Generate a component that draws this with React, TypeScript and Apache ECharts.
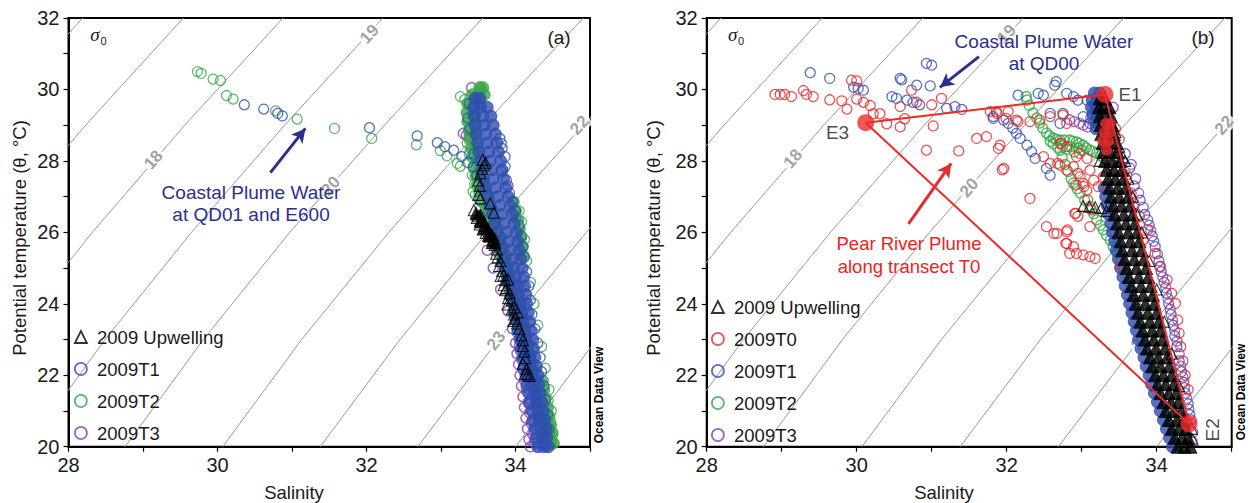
import { useEffect, useRef } from 'react';
import * as echarts from 'echarts';

const FONT = '"Liberation Sans", Arial, Helvetica, sans-serif';
const C_UPW = '#000000';
const C_T0 = '#e52b2b';
const C_T1 = '#2f4db0';
const C_T2 = '#36a847';
const C_T3 = '#8a3cb4';
const C_NAVY = '#2b2f8e';
const C_ISO = '#9a9a9a';
const C_TEXT = '#1a1a1a';

// axes
const salRange = [28, 35];
const tempRange = [20, 32];
const salTickLabels = [28, 30, 32, 34];
const tempTickLabels = [20, 22, 24, 26, 28, 30, 32];

// isopycnals (sigma-0): salinity read at the temperatures below
const isoLevels = [16, 17, 18, 19, 20, 21, 22, 23, 24];
const isoTemps = [20, 23, 26, 29, 32];
const isoSal = [
  [23.52, 24.52, 25.68, 26.89, 28.19],
  [24.83, 25.85, 27.0, 28.23, 29.54],
  [26.14, 27.17, 28.32, 29.56, 30.88],
  [27.45, 28.49, 29.65, 30.9, 32.22],
  [28.76, 29.81, 30.97, 32.24, 33.56],
  [30.07, 31.13, 32.3, 33.57, 34.91],
  [31.38, 32.45, 33.62, 34.91, 36.25],
  [32.69, 33.77, 34.95, 36.25, 37.6],
  [34.0, 35.09, 36.27, 37.6, 38.9],
];
const isoLabelText = ['18', '19', '20', '22', '23'];
const isoLabelRot = [49, 47, 49, 48, 52];
const isoLabelPosA = [[29.14, 28.03], [32.04, 31.55], [31.52, 27.3], [34.86, 29.0], [33.74, 22.97]];
const isoLabelPosB = [[29.15, 28.06], [32.0, 31.55], [31.5, 27.25], [34.9, 29.0], [33.78, 22.97]];

// ---------------- Panel (a) ----------------
const aUpwPoints = [
  [33.56, 28.03], [33.6, 27.95], [33.58, 27.88], [33.55, 27.78], [33.53, 27.65], [33.5, 27.45], [33.52, 27.3], [33.5, 27.05],
  [33.53, 26.95], [33.66, 26.81], [33.71, 26.55], [33.44, 26.62], [33.47, 26.55], [33.5, 26.45], [33.48, 26.4], [33.53, 26.35],
  [33.55, 26.28], [33.52, 26.22], [33.58, 26.18], [33.56, 26.08], [33.61, 26.1], [33.6, 25.98], [33.64, 26.02], [33.65, 25.88],
  [33.68, 25.93], [33.69, 25.78], [33.72, 25.82], [33.72, 25.65], [33.75, 25.52], [33.74, 25.4], [33.76, 25.3], [33.8, 25.2],
  [33.78, 25.06], [33.82, 24.92], [33.8, 24.78], [33.86, 24.66], [33.84, 24.52], [33.88, 24.44], [33.92, 24.3], [33.9, 24.16],
  [33.89, 23.98], [33.95, 23.85], [33.98, 23.7], [34.0, 23.58], [34.02, 23.45], [34.05, 23.3], [34.08, 23.12], [34.1, 22.98],
  [34.1, 22.82], [34.12, 22.66], [34.13, 22.48], [34.1, 22.32], [34.15, 22.18], [34.16, 22.02], [34.19, 21.98], [34.13, 22.04],
  [33.84, 24.8], [33.9, 24.68], [33.86, 24.38], [33.95, 24.1], [33.98, 23.9], [34.03, 23.76], [33.97, 23.52],
];
const aUpwCore: [number, number[]][] = [
  [26.5, [33.47, 33.53]], [26.3, [33.52, 33.58]], [26.1, [33.57, 33.63]], [25.9, [33.63, 33.69]], [25.7, [33.68, 33.73]],
];
const aT1Points = [
  [30.36, 29.57], [30.62, 29.45], [30.81, 29.33], [30.87, 29.26], [32.04, 28.93], [32.68, 28.7], [32.95, 28.51], [33.05, 28.4],
  [33.17, 28.3], [33.28, 28.12], [33.36, 27.95], [33.43, 27.82], [33.61, 27.04], [33.52, 26.9], [33.79, 28.63], [33.81, 28.49],
  [33.82, 28.35], [33.86, 28.12], [33.86, 27.84], [33.81, 27.7], [33.88, 27.46], [33.9, 27.3], [33.92, 27.1], [33.96, 26.85],
  [34.0, 26.6], [34.05, 26.2], [34.08, 25.9], [34.1, 25.6], [34.12, 25.3], [34.15, 24.9], [34.18, 24.5], [34.2, 24.1],
  [34.22, 23.7], [34.26, 23.3], [34.3, 22.9], [34.33, 22.5], [34.35, 22.1], [34.38, 21.7], [34.4, 21.3], [34.43, 20.9],
  [34.45, 20.5], [33.38, 29.6], [33.36, 29.2], [33.39, 28.9], [33.44, 28.2], [33.48, 27.6], [33.56, 27.2], [33.64, 26.6],
  [33.7, 26.2], [33.76, 25.7], [33.82, 25.2], [33.88, 24.7], [33.93, 24.2], [33.98, 23.7], [34.02, 23.2], [34.06, 22.7],
  [34.1, 22.2], [34.14, 21.7], [34.18, 21.2], [34.22, 20.7], [34.26, 20.2],
];
const aT1Core: [number, number[]][] = [
  [29.75, [33.46, 33.52]], [29.5, [33.44, 33.53, 33.62]], [29.25, [33.45, 33.56, 33.67]], [29.0, [33.46, 33.58, 33.7]],
  [28.75, [33.47, 33.6, 33.73]], [28.5, [33.49, 33.62, 33.75]], [28.25, [33.51, 33.64, 33.77]], [28.0, [33.53, 33.66, 33.8]],
  [27.75, [33.55, 33.68, 33.82]], [27.5, [33.57, 33.7, 33.84]], [27.25, [33.6, 33.73, 33.87]], [27.0, [33.63, 33.76, 33.9]],
  [26.75, [33.66, 33.79, 33.93]], [26.5, [33.69, 33.82, 33.96]], [26.25, [33.72, 33.85, 33.98]], [26.0, [33.75, 33.88, 34.01]],
  [25.75, [33.78, 33.91, 34.03]], [25.5, [33.81, 33.93, 34.05]], [25.25, [33.84, 33.96, 34.07]], [25.0, [33.87, 33.98, 34.09]],
  [24.75, [33.9, 34.0, 34.11]], [24.5, [33.93, 34.02, 34.12]], [24.25, [33.95, 34.04, 34.14]], [24.0, [33.97, 34.06, 34.15]],
  [23.75, [34.0, 34.08, 34.17]], [23.5, [34.02, 34.1, 34.19]], [23.25, [34.04, 34.12, 34.21]], [23.0, [34.06, 34.14, 34.23]],
  [22.75, [34.08, 34.16, 34.24]], [22.5, [34.1, 34.18, 34.26]], [22.25, [34.12, 34.2, 34.28]], [22.0, [34.14, 34.22, 34.3]],
  [21.75, [34.16, 34.24, 34.31]], [21.5, [34.18, 34.26, 34.33]], [21.25, [34.2, 34.28, 34.35]], [21.0, [34.22, 34.3, 34.37]],
  [20.75, [34.24, 34.32, 34.39]], [20.5, [34.26, 34.34, 34.41]], [20.25, [34.28, 34.36, 34.42]], [20.0, [34.3, 34.38, 34.44]],
];
const aT2Points = [
  [29.73, 30.5], [29.78, 30.45], [29.94, 30.29], [30.04, 30.25], [30.12, 29.83], [30.21, 29.73], [30.78, 29.4], [31.07, 29.17],
  [31.57, 28.91], [32.07, 28.63], [32.67, 28.45], [32.99, 28.29], [33.08, 28.14], [33.22, 27.93], [33.26, 27.85], [33.43, 27.14],
  [33.46, 27.05], [33.68, 26.67], [33.26, 29.8], [33.32, 29.72], [33.35, 28.5], [33.38, 28.2], [33.42, 27.6], [33.45, 27.35],
  [34.05, 26.6], [34.08, 26.3], [34.12, 25.8], [34.15, 25.2], [34.2, 24.6], [34.25, 24.0], [34.3, 23.4], [34.35, 22.8],
  [34.4, 22.2], [34.45, 21.6], [34.48, 21.0], [34.5, 20.4], [34.52, 20.1], [34.44, 21.3], [34.47, 20.7], [34.46, 20.2],
];
const aT2Core: [number, number[]][] = [
  [30.05, [33.52, 33.56]], [29.85, [33.42, 33.5, 33.58]], [29.6, [33.36, 33.44, 33.52]], [29.35, [33.35, 33.43]],
  [29.1, [33.36, 33.44]], [28.85, [33.38, 33.45]], [28.6, [33.39, 33.46]], [28.35, [33.41, 33.48]], [28.1, [33.43, 33.5]],
  [27.85, [33.45, 33.52]], [27.6, [33.47, 33.54]], [27.35, [33.49, 33.57]], [27.1, [33.52, 33.6]],
  [26.85, [33.56, 33.64, 33.97]], [26.6, [33.6, 33.68, 34.0]], [26.35, [33.64, 33.72, 34.03]], [26.1, [33.68, 33.76, 34.05]],
  [25.85, [33.72, 33.8, 34.07]], [25.6, [33.76, 33.83, 34.09]], [25.35, [33.8, 33.87, 34.1]], [25.1, [33.84, 33.9]],
  [24.85, [33.87, 33.93]], [24.6, [33.9, 33.96]], [24.35, [33.93, 33.99]], [24.1, [33.96, 34.02]], [23.85, [33.99, 34.05]],
  [23.6, [34.02, 34.08]], [23.35, [34.05, 34.1]], [23.1, [34.08, 34.13]], [22.85, [34.1, 34.16]], [22.6, [34.13, 34.19]],
  [22.35, [34.16, 34.22]], [22.1, [34.19, 34.25]], [21.85, [34.22, 34.28, 34.36]], [21.6, [34.25, 34.31, 34.38]],
  [21.35, [34.28, 34.34, 34.4]], [21.1, [34.31, 34.37, 34.43]], [20.85, [34.34, 34.4, 34.45]], [20.6, [34.37, 34.43, 34.47]],
  [20.35, [34.4, 34.45, 34.49]], [20.1, [34.42, 34.47, 34.5]],
];
const aT3Points = [
  [33.41, 30.05], [33.3, 28.77], [33.34, 28.72], [33.38, 28.68], [33.96, 26.85], [33.98, 26.6], [34.0, 26.4], [33.62, 25.5],
  [33.7, 25.0], [33.8, 24.4], [33.9, 23.8], [33.96, 23.3], [34.0, 22.9], [34.02, 22.6], [34.04, 22.3], [34.06, 22.0],
  [34.08, 21.7], [34.1, 21.4], [34.12, 21.1], [34.14, 20.8], [34.16, 20.5], [34.18, 20.2], [34.2, 20.0], [34.05, 22.8],
  [34.08, 22.45], [34.1, 22.15], [34.12, 21.85], [34.15, 21.55], [34.17, 21.25], [34.19, 20.95], [34.21, 20.65], [34.23, 20.35],
  [34.25, 20.1],
];

// ---------------- Panel (b) ----------------
const bT0Points = [
  [28.91, 29.86], [28.98, 29.86], [29.04, 29.86], [29.13, 29.8], [29.29, 29.97], [29.33, 29.86], [29.42, 29.8], [29.64, 29.71],
  [29.8, 29.68], [29.87, 29.45], [29.93, 30.26], [30.0, 30.24], [30.0, 29.73], [30.09, 29.64], [30.18, 29.55], [30.22, 29.32],
  [30.31, 29.32], [30.4, 29.04], [30.58, 28.95], [30.58, 29.52], [30.64, 29.18], [30.73, 29.98], [30.8, 29.64], [31.0, 29.57],
  [31.02, 28.98], [31.13, 29.75], [30.93, 28.3], [31.36, 28.28], [31.6, 28.63], [31.73, 28.68], [31.78, 29.38], [31.87, 29.33],
  [32.02, 29.38], [32.13, 29.14], [32.31, 29.1], [31.91, 28.44], [31.89, 28.35], [31.96, 27.79], [32.31, 26.95], [32.53, 26.16],
  [32.67, 25.97], [32.8, 25.69], [32.84, 25.41], [32.93, 25.41], [33.02, 25.37], [33.11, 25.32], [33.18, 25.27], [32.8, 26.02],
  [32.91, 26.53], [32.95, 26.45], [32.58, 27.93], [32.71, 27.88], [32.8, 27.74], [32.89, 27.84], [32.98, 27.56], [33.02, 27.37],
  [33.07, 27.18], [33.16, 27.46], [33.22, 27.28], [33.29, 27.56], [33.11, 27.74], [32.93, 28.12], [33.07, 28.07], [32.71, 28.49],
  [32.8, 28.4], [32.44, 29.14], [32.58, 29.24], [32.8, 29.05], [32.75, 29.28], [32.63, 25.97], [32.81, 26.07], [32.79, 25.69],
  [32.89, 25.6], [33.11, 26.16], [33.13, 26.63], [33.08, 26.91], [33.51, 25.04], [32.49, 28.12], [32.68, 27.93], [32.73, 28.49],
  [32.97, 28.21], [32.95, 27.65], [32.92, 27.33], [33.03, 27.28], [32.92, 26.53], [31.99, 29.19], [31.86, 29.38], [32.15, 29.1],
  [31.94, 27.75], [33.6, 27.6], [33.66, 27.1], [33.7, 26.8], [33.77, 26.44], [33.88, 26.07], [33.82, 25.79], [33.98, 25.41],
  [34.04, 25.04], [34.14, 24.67], [34.2, 24.29], [34.25, 24.01], [34.28, 23.55], [34.3, 23.18], [34.32, 22.8], [34.35, 22.4],
  [34.38, 22.0], [34.42, 21.6], [33.45, 28.9], [33.5, 28.6], [33.42, 28.3], [33.38, 27.9], [33.46, 27.7],
];
const bT0Core: [number, number[]][] = [
  [29.05, [33.32, 33.38]], [28.8, [33.3, 33.37]], [28.55, [33.28, 33.36]], [28.3, [33.33]],
];
const bT1Points = [
  [29.38, 30.47], [29.64, 30.31], [29.96, 30.06], [30.02, 30.03], [30.09, 29.98], [30.58, 30.31], [30.6, 30.27], [30.47, 29.8],
  [30.53, 29.75], [30.67, 29.7], [30.75, 29.64], [30.84, 29.57], [30.8, 30.12], [30.98, 30.1], [30.93, 30.73], [31.0, 30.68],
  [31.2, 29.47], [31.4, 29.44], [31.82, 29.19], [31.31, 29.52], [32.15, 29.84], [32.42, 29.89], [32.49, 29.84], [32.64, 30.12],
  [32.66, 30.22], [32.8, 29.89], [32.89, 29.8], [32.95, 29.7], [32.58, 29.33], [32.71, 29.05], [31.96, 29.14], [32.02, 29.05],
  [32.08, 28.92], [32.13, 28.77], [32.18, 28.63], [32.27, 28.44], [32.33, 28.26], [32.38, 28.07], [32.53, 27.79], [32.58, 27.6],
  [31.82, 29.24], [32.75, 29.33], [33.07, 29.7], [33.02, 29.24], [33.11, 29.05], [33.58, 28.2], [33.64, 27.8], [33.7, 27.3],
  [33.78, 26.9], [33.84, 26.5], [33.9, 26.2], [33.94, 25.9], [33.98, 25.6], [34.03, 25.2], [34.06, 24.9], [34.1, 24.6],
  [34.13, 24.3], [34.16, 24.0], [34.19, 23.7], [34.22, 23.4], [34.24, 23.1], [34.27, 22.8], [34.3, 22.4], [34.33, 22.1],
  [34.36, 21.8], [34.38, 21.5], [34.42, 21.2], [34.44, 20.9],
];
const bT1Core: [number, number[]][] = [
  [29.9, [33.17, 33.24]], [29.7, [33.14, 33.21]], [29.5, [33.13, 33.19]], [29.3, [33.15, 33.2]], [29.1, [33.17]], [28.9, [33.19]],
  [27.25, [33.3]], [27.0, [33.32]], [26.75, [33.34]], [26.5, [33.36]], [26.25, [33.39]], [26.0, [33.41]], [25.75, [33.44]],
  [25.5, [33.46]], [25.25, [33.49]], [25.0, [33.52]], [24.75, [33.55]], [24.5, [33.58]], [24.25, [33.61]], [24.0, [33.64]],
  [23.75, [33.67]], [23.5, [33.7]], [23.25, [33.73]], [23.0, [33.76]], [22.75, [33.79]], [22.5, [33.83]], [22.25, [33.86]],
  [22.0, [33.9]], [21.75, [33.93]], [21.5, [33.97]], [21.25, [34.01]], [21.0, [34.05]], [20.75, [34.09]], [20.5, [34.13]],
  [20.25, [34.17]], [20.0, [34.21]],
];
const bT2Points = [
  [32.26, 29.8], [32.27, 29.7], [32.3, 29.55], [32.35, 29.34], [32.4, 29.2], [32.44, 29.06], [32.48, 28.92], [32.53, 28.78],
  [32.57, 28.7], [32.62, 28.64], [32.66, 28.6], [32.71, 28.58], [32.77, 28.58], [32.84, 28.58], [32.88, 28.55], [32.93, 28.53],
  [32.97, 28.49], [33.02, 28.44], [33.06, 28.37], [33.11, 28.3], [33.15, 28.26], [33.2, 28.22], [33.25, 28.15], [33.3, 28.05],
  [32.62, 28.48], [32.75, 28.42], [32.85, 28.4], [32.95, 28.36], [33.0, 28.3], [32.9, 28.25], [32.8, 28.33], [32.68, 28.38],
  [32.58, 28.55], [32.71, 28.3], [32.74, 28.1], [32.78, 27.9], [32.82, 27.7], [32.86, 27.5], [32.89, 27.38], [32.94, 27.22],
  [32.98, 27.1], [33.04, 26.9], [33.11, 26.72], [33.16, 26.52], [33.2, 26.35], [33.25, 26.2], [33.29, 26.07], [33.33, 25.92],
  [33.38, 25.78], [33.42, 25.6], [33.47, 25.42], [33.52, 25.22], [33.56, 25.04], [33.6, 24.85], [33.64, 24.6], [33.67, 24.35],
  [33.72, 24.1], [33.76, 23.85], [33.8, 23.55], [33.84, 23.3], [33.88, 23.0], [33.92, 22.7], [33.96, 22.4], [34.0, 22.1],
  [34.04, 21.8], [34.08, 21.5], [34.12, 21.2], [34.16, 20.9], [34.2, 20.6], [34.24, 20.3], [34.27, 20.05],
];
const bT3Points = [
  [32.84, 29.15], [32.9, 29.1], [32.97, 29.05], [33.02, 29.0], [33.08, 28.95], [33.12, 29.2], [33.3, 29.6], [33.42, 29.5],
  [33.66, 27.9], [33.72, 27.5], [33.76, 27.1], [33.82, 26.7], [33.88, 26.35], [33.92, 26.05], [33.96, 25.75], [34.01, 25.4],
  [34.05, 25.05], [34.08, 24.75], [34.12, 24.45], [34.15, 24.15], [34.18, 23.85], [34.21, 23.55], [34.24, 23.25], [34.27, 22.95],
  [34.3, 22.6], [34.32, 22.25], [34.35, 21.95], [34.37, 21.65], [34.4, 21.35], [34.43, 21.05], [34.46, 20.75], [34.48, 20.4],
  [34.47, 20.15],
];
const bUpwPoints = [
  [33.02, 26.74], [33.1, 26.72], [33.18, 26.7], [33.26, 26.68], [33.33, 26.6], [33.24, 28.0], [33.38, 29.1], [33.45, 28.8],
  [33.5, 28.4], [33.55, 28.1], [33.58, 28.0], [33.62, 27.5], [33.68, 27.0], [33.74, 26.5], [33.8, 26.0], [33.9, 25.2],
  [34.0, 24.4], [34.1, 23.5], [34.2, 22.6], [34.3, 21.7], [34.4, 20.8], [34.48, 20.2], [34.47, 20.5],
];
const bUpwCore: [number, number[]][] = [
  [29.75, [33.24, 33.31]], [29.5, [33.23, 33.3, 33.37]], [29.25, [33.24, 33.31, 33.39]], [29.0, [33.25, 33.33, 33.41]],
  [28.75, [33.26, 33.34, 33.43]], [28.5, [33.28, 33.36, 33.46]], [28.25, [33.29, 33.38, 33.48]], [28.0, [33.31, 33.41, 33.51]],
  [27.75, [33.33, 33.43, 33.54]], [27.5, [33.35, 33.45, 33.56]], [27.25, [33.37, 33.48, 33.59]], [27.0, [33.39, 33.5, 33.62]],
  [26.75, [33.42, 33.53, 33.65]], [26.5, [33.44, 33.56, 33.68]], [26.25, [33.47, 33.59, 33.71]], [26.0, [33.49, 33.62, 33.74]],
  [25.75, [33.52, 33.65, 33.77]], [25.5, [33.54, 33.67, 33.8]], [25.25, [33.57, 33.7, 33.83]], [25.0, [33.6, 33.73, 33.86]],
  [24.75, [33.63, 33.76, 33.89]], [24.5, [33.66, 33.79, 33.92]], [24.25, [33.69, 33.82, 33.95]], [24.0, [33.72, 33.85, 33.97]],
  [23.75, [33.75, 33.88, 34.0]], [23.5, [33.78, 33.91, 34.03]], [23.25, [33.81, 33.94, 34.05]], [23.0, [33.84, 33.96, 34.08]],
  [22.75, [33.87, 33.99, 34.11]], [22.5, [33.91, 34.02, 34.14]], [22.25, [33.94, 34.05, 34.17]], [22.0, [33.98, 34.09, 34.2]],
  [21.75, [34.01, 34.12, 34.23]], [21.5, [34.05, 34.16, 34.26]], [21.25, [34.09, 34.19, 34.29]], [21.0, [34.12, 34.23, 34.32]],
  [20.75, [34.16, 34.27, 34.36]], [20.5, [34.2, 34.3, 34.39]], [20.25, [34.24, 34.34, 34.42]], [20.0, [34.28, 34.37, 34.45]],
];
const endMemberNames = ['E1', 'E2', 'E3'];
const endMembers = [[33.31, 29.86], [34.43, 20.64], [30.12, 29.07]];

// annotation arrows [from, to]
const arrowA = [[30.71, 27.67], [31.18, 28.91]];
const arrowBBlue = [[31.63, 30.92], [31.11, 30.06]];
const arrowBRed = [[30.69, 26.24], [31.26, 27.93]];

const rows = (r: [number, number[]][]) => r.flatMap(([t, ss]) => ss.map((s) => [s, t]));

function isoSeries(idx: number) {
  return isoLevels.map((lvl, i) => ({
    type: 'line', name: 'sigma' + lvl, xAxisIndex: idx, yAxisIndex: idx,
    data: isoTemps.map((t, j) => [isoSal[i][j], t]),
    symbol: 'none', lineStyle: { color: C_ISO, width: 1 }, silent: true, z: 1, clip: true,
  }));
}

function isoLabelSeries(idx: number, pos: number[][], arrows: { seg: number[][]; color: string }[]) {
  return {
    type: 'scatter', xAxisIndex: idx, yAxisIndex: idx, z: 1, symbolSize: 0.1, silent: true,
    itemStyle: { color: 'rgba(0,0,0,0)' },
    data: pos.map((p, i) => ({ value: p, name: isoLabelText[i], label: { rotate: isoLabelRot[i] } })),
    label: {
      show: true, position: 'inside', formatter: '{b}', color: '#8a8a8a', fontSize: 17, fontWeight: 'bold',
      fontFamily: FONT, backgroundColor: '#ffffff', padding: [0, 2],
    },
    markLine: {
      silent: true, symbol: ['none', 'arrow'], symbolSize: [11, 14], label: { show: false },
      data: arrows.map((a) => [
        { coord: a.seg[0], lineStyle: { color: a.color, width: 3, type: 'solid' } },
        { coord: a.seg[1] },
      ]),
      lineStyle: { width: 3, type: 'solid' },
      z: 6,
    },
  };
}

function ring(name: string, data: number[][], color: string, idx: number, z: number, bw = 1.3) {
  return {
    type: 'scatter', name, data, xAxisIndex: idx, yAxisIndex: idx, z, symbol: 'circle', symbolSize: 10, silent: true,
    itemStyle: { color: 'rgba(255,255,255,0)', borderColor: color, borderWidth: bw },
  };
}
function fill(name: string, data: number[][], color: string, idx: number, z: number, symbol = 'circle', size = 12) {
  return {
    type: 'scatter', name, data, xAxisIndex: idx, yAxisIndex: idx, z, symbol, symbolSize: size, silent: true,
    itemStyle: { color, borderColor: color, borderWidth: 1 },
  };
}
function tri(name: string, data: number[][], idx: number, z: number) {
  return {
    type: 'scatter', name, data, xAxisIndex: idx, yAxisIndex: idx, z, symbol: 'triangle', symbolSize: 11, silent: true,
    itemStyle: { color: 'rgba(255,255,255,0)', borderColor: C_UPW, borderWidth: 1.1 },
  };
}

function axisPair(idx: number) {
  const common = {
    type: 'value', gridIndex: idx, interval: 1,
    axisLine: { show: true, onZero: false, lineStyle: { color: '#000', width: 2 } },
    axisTick: { show: true, inside: false, length: 5, lineStyle: { color: '#000', width: 1.2 } },
    splitLine: { show: false },
  };
  return {
    x: {
      ...common, min: salRange[0], max: salRange[1],
      axisLabel: {
        formatter: (v: number) => (salTickLabels.includes(v) ? String(v) : ''), fontSize: 20, color: C_TEXT,
        fontFamily: FONT, margin: 8,
      },
    },
    y: {
      ...common, min: tempRange[0], max: tempRange[1],
      axisLabel: {
        formatter: (v: number) => (tempTickLabels.includes(v) ? String(v) : ''), fontSize: 20, color: C_TEXT,
        fontFamily: FONT, margin: 9,
      },
    },
  };
}

function legendItem(name: string, color: string, icon = 'circle') {
  return { name, icon, itemStyle: { color: 'rgba(255,255,255,0)', borderColor: color, borderWidth: 1.8 } };
}

function txt(text: string, x: number, y: number, o: any = {}) {
  return {
    type: 'text', x, y, rotation: o.rotation || 0, z: 100, silent: true,
    style: {
      text, fill: o.fill || C_TEXT, fontSize: o.fontSize || 18.5, fontFamily: o.fontFamily || FONT,
      fontWeight: o.fontWeight || 'normal', fontStyle: o.fontStyle || 'normal',
      align: o.align || 'center', verticalAlign: 'middle', lineHeight: o.lineHeight || 22,
    },
  };
}

function buildOption() {
  const A = axisPair(0);
  const B = axisPair(1);
  const legendText = { fontSize: 18.5, color: C_TEXT, fontFamily: FONT, lineHeight: 20 };
  const ePoints = endMembers.map((p, i) => {
    const name = endMemberNames[i];
    let label: any = { show: true, position: 'right', distance: 5 };
    if (name === 'E3') label = { show: true, position: 'left', distance: 8, offset: [0, 10] };
    if (name === 'E2') label = { show: true, position: 'inside', rotate: 90, offset: [-6, 24] };
    return { value: p, name, label };
  });
  const legendBase = {
    orient: 'vertical', itemGap: 12, itemWidth: 12, itemHeight: 12, selectedMode: false,
    textStyle: legendText, formatter: (n: string) => ' ' + n,
  };
  return {
    animation: false,
    backgroundColor: '#ffffff',
    grid: [
      { left: 68.5, top: 18, width: 521.5, height: 428.7, show: true, borderColor: '#000', borderWidth: 2, backgroundColor: 'rgba(0,0,0,0)' },
      { left: 706.7, top: 18, width: 525, height: 428.7, show: true, borderColor: '#000', borderWidth: 2, backgroundColor: 'rgba(0,0,0,0)' },
    ],
    xAxis: [A.x, B.x],
    yAxis: [A.y, B.y],
    legend: [
      {
        ...legendBase, left: 69, top: 322,
        data: [legendItem('2009 Upwelling', C_UPW, 'triangle'), legendItem('2009T1', C_T1), legendItem('2009T2', C_T2), legendItem('2009T3', C_T3)],
      },
      {
        ...legendBase, left: 706, top: 292,
        data: [legendItem('2009 Upwelling', C_UPW, 'triangle'), legendItem('2009T0', C_T0), legendItem('2009T1', C_T1), legendItem('2009T2', C_T2), legendItem('2009T3', C_T3)],
      },
    ],
    series: [
      ...isoSeries(0),
      isoLabelSeries(0, isoLabelPosA, [{ seg: arrowA, color: C_NAVY }]),
      ring('2009T3', aT3Points, C_T3, 0, 2, 1.5),
      ring('2009T2', aT2Points, C_T2, 0, 3),
      fill('2009T2', rows(aT2Core), C_T2, 0, 3),
      ring('2009T1', aT1Points, C_T1, 0, 4),
      fill('2009T1', rows(aT1Core), C_T1, 0, 4),
      tri('2009 Upwelling', aUpwPoints, 0, 5),
      fill('2009 Upwelling', rows(aUpwCore), C_UPW, 0, 5, 'triangle', 11),

      ...isoSeries(1),
      isoLabelSeries(1, isoLabelPosB, [{ seg: arrowBBlue, color: C_NAVY }, { seg: arrowBRed, color: C_T0 }]),
      ring('2009T3', bT3Points, C_T3, 1, 2),
      ring('2009T2', bT2Points, C_T2, 1, 3, 1.5),
      ring('2009T1', bT1Points, C_T1, 1, 4),
      fill('2009T1', rows(bT1Core), C_T1, 1, 4),
      ring('2009T0', bT0Points, C_T0, 1, 5),
      tri('2009 Upwelling', bUpwPoints, 1, 6),
      fill('2009 Upwelling', rows(bUpwCore), C_UPW, 1, 6, 'triangle', 13),
      fill('2009T0', rows(bT0Core), C_T0, 1, 7, 'circle', 10),
      {
        type: 'line', name: 'mixing', xAxisIndex: 1, yAxisIndex: 1, z: 8, symbol: 'none', silent: true,
        data: [endMembers[2], endMembers[0], endMembers[1], endMembers[2]],
        lineStyle: { color: '#ee2a2a', width: 2 },
      },
      {
        type: 'scatter', name: 'end members', xAxisIndex: 1, yAxisIndex: 1, z: 9, symbol: 'circle', symbolSize: 17, silent: true,
        itemStyle: { color: '#ee2a2a' },
        data: ePoints,
        label: { formatter: '{b}', color: C_TEXT, fontSize: 19, fontFamily: FONT },
      },
    ],
    graphic: [
      txt('Potential temperature (θ, °C)', 19, 238, { rotation: Math.PI / 2 }),
      txt('Potential temperature (θ, °C)', 653, 238, { rotation: Math.PI / 2 }),
      txt('Salinity', 294, 492),
      txt('Salinity', 944, 492),
      txt('(a)', 559, 37, { fontSize: 19 }),
      txt('(b)', 1203, 37, { fontSize: 19 }),
      txt('σ', 95, 34, { fontSize: 19, fontStyle: 'italic', fontFamily: '"Liberation Serif", "DejaVu Serif", serif' }),
      txt('0', 103.5, 41, { fontSize: 11 }),
      txt('σ', 732.6, 34, { fontSize: 19, fontStyle: 'italic', fontFamily: '"Liberation Serif", "DejaVu Serif", serif' }),
      txt('0', 741, 41, { fontSize: 11 }),
      txt('Ocean Data View', 599, 395, { rotation: Math.PI / 2, fontSize: 12, fontWeight: 'bold', fill: '#000' }),
      txt('Ocean Data View', 1241, 392, { rotation: Math.PI / 2, fontSize: 12, fontWeight: 'bold', fill: '#000' }),
      txt('Coastal Plume Water\nat QD01 and E600', 251, 203.5, { fill: C_NAVY, fontSize: 19, lineHeight: 21.6 }),
      txt('Coastal Plume Water\nat QD00', 1044, 52.5, { fill: C_NAVY, fontSize: 19, lineHeight: 21.6 }),
      txt('Pear River Plume\nalong transect T0', 909, 254.5, { fill: '#ee2222', fontSize: 18.5, lineHeight: 23 }),
    ],
  };
}

export default function App() {
  const ref = useRef<HTMLDivElement>(null);
  useEffect(() => {
    if (!ref.current) return;
    const chart = echarts.init(ref.current, null, { renderer: 'svg' });
    chart.setOption(buildOption() as any);
    return () => chart.dispose();
  }, []);
  return (
    <div
      ref={ref}
      style={{ position: 'fixed', left: 0, top: 0, width: 1250, height: 503, background: '#fff' }}
    />
  );
}
